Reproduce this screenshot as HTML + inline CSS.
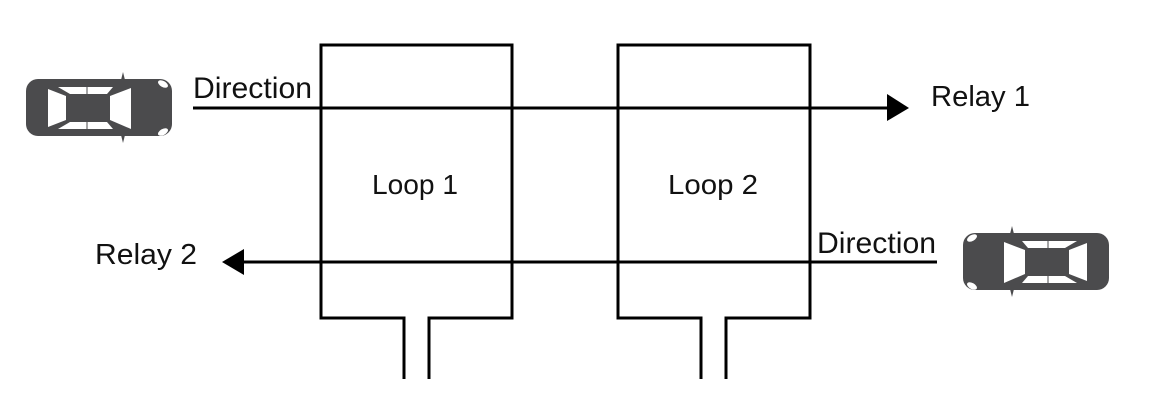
<!DOCTYPE html>
<html>
<head>
<meta charset="utf-8">
<style>
  html, body { margin:0; padding:0; background:#fff; }
  body { width:1152px; height:406px; overflow:hidden; }
  svg { display:block; }
  text { font-family: "Liberation Sans", "DejaVu Sans", sans-serif; fill:#111; }
</style>
</head>
<body>
<svg width="1152" height="406" viewBox="0 0 1152 406" xmlns="http://www.w3.org/2000/svg">
  <defs>
    <g id="car">
      <!-- mirrors -->
      <polygon points="121,80 123,72 125,80" fill="#4b4b4d"/>
      <polygon points="121,135 123,143 125,135" fill="#4b4b4d"/>
      <!-- body -->
      <rect x="26" y="79" width="146" height="57" rx="12" ry="12" fill="#4b4b4d"/>
      <!-- rear window -->
      <polygon points="48,89 66,96 66,120 48,127" fill="#fff"/>
      <!-- side windows -->
      <polygon points="58,87 113,87 107,94 70,94" fill="#fff"/>
      <polygon points="70,122 107,122 113,129 58,129" fill="#fff"/>
      <line x1="87" y1="86" x2="87" y2="95" stroke="#4b4b4d" stroke-width="1"/>
      <line x1="87" y1="121" x2="87" y2="130" stroke="#4b4b4d" stroke-width="1"/>
      <!-- windshield -->
      <polygon points="110,96 131,88 131,129 110,120" fill="#fff"/>
      <!-- headlights -->
      <ellipse cx="163" cy="84" rx="5.5" ry="3" transform="rotate(30 163 84)" fill="#fff"/>
      <ellipse cx="163" cy="132" rx="5.5" ry="3" transform="rotate(-30 163 132)" fill="#fff"/>
    </g>
  </defs>

  <!-- cars -->
  <use href="#car"/>
  <g transform="translate(1135,154) scale(-1,1)">
    <use href="#car"/>
  </g>

  <g stroke="#000" stroke-width="3" fill="none" stroke-linecap="butt" stroke-linejoin="miter">
    <!-- Loop 1 -->
    <polyline points="404,379 404,318 321,318 321,45 512,45 512,318 429,318 429,379"/>
    <!-- Loop 2 -->
    <polyline points="701,379 701,318 618,318 618,45 810,45 810,318 726,318 726,379"/>
    <!-- direction lines -->
    <line x1="193" y1="108" x2="890" y2="108"/>
    <line x1="241" y1="262" x2="937" y2="262"/>
  </g>

  <!-- arrowheads -->
  <polygon points="887,94 909,108 887,121" fill="#000"/>
  <polygon points="244,249 222,262 244,275" fill="#000"/>

  <!-- labels -->
  <text x="193" y="98" font-size="30" textLength="119" lengthAdjust="spacingAndGlyphs">Direction</text>
  <text x="817" y="253" font-size="30" textLength="119" lengthAdjust="spacingAndGlyphs">Direction</text>
  <text x="931" y="106" font-size="29" textLength="99" lengthAdjust="spacingAndGlyphs">Relay 1</text>
  <text x="95" y="264" font-size="29" textLength="102" lengthAdjust="spacingAndGlyphs">Relay 2</text>
  <text x="372" y="194" font-size="28" textLength="86" lengthAdjust="spacingAndGlyphs">Loop 1</text>
  <text x="668" y="194" font-size="28" textLength="90" lengthAdjust="spacingAndGlyphs">Loop 2</text>
</svg>
</body>
</html>
